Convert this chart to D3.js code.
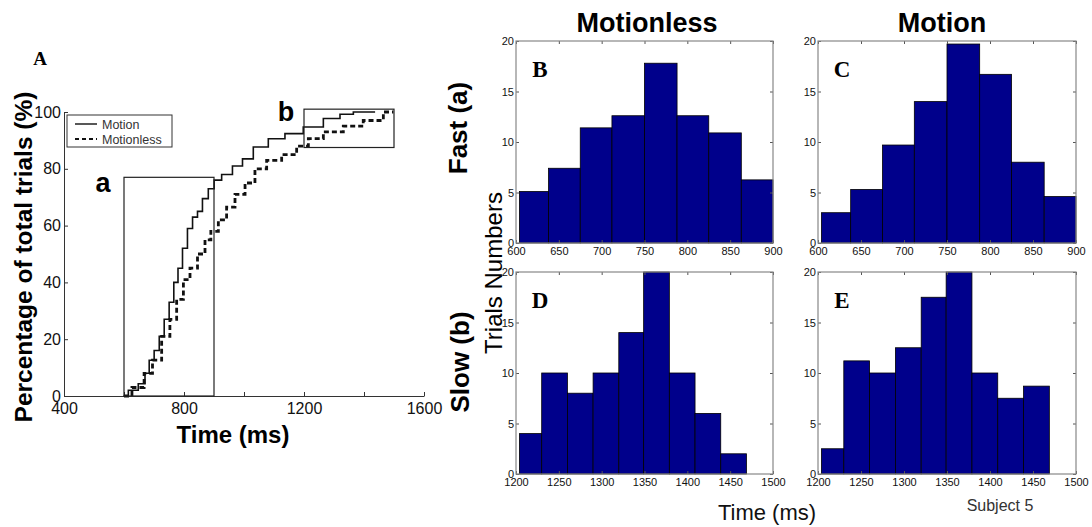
<!DOCTYPE html>
<html>
<head>
<meta charset="utf-8">
<script src="https://cdn.jsdelivr.net/npm/d3@7"></script>
<style>
body { margin: 0; background: #fff; }
svg { display: block; font-family: "Liberation Sans", Arial, sans-serif; }
</style>
</head>
<body>
<div id="chart"></div>
<script>
// cumulative curves (panel A)
var motionTimes = [598, 631, 664, 676, 692, 709, 726, 742, 759, 773, 787, 803, 820, 837, 853, 870, 892, 909, 942, 981, 1009, 1053, 1109, 1164, 1231, 1298, 1342, 1387, 1437];
var motionPct   = [0, 2, 4.3, 8, 12.6, 16, 21, 27, 33, 40, 45, 52, 59, 63, 65, 69.5, 73, 76, 78, 81, 83.5, 87.7, 90.6, 92.4, 94.7, 97.7, 99.2, 100, 100];
var motionlessTimes = [600, 653, 681, 709, 742, 764, 787, 809, 831, 859, 881, 898, 931, 953, 987, 1020, 1053, 1098, 1153, 1198, 1231, 1298, 1364, 1431, 1498];
var motionlessPct   = [0, 3, 8, 12.6, 21, 27, 34, 41, 45, 50, 55, 58, 62, 66.5, 71, 75, 80, 83, 85, 88, 90.6, 93, 95, 97, 100];

// windows "a" and "b"
var windowA = [600, 900, 0, 77];
var windowB = [1200, 1500, 87.5, 101];

// histograms
var fastEdges = [604, 638, 675, 712, 750, 788, 825, 863, 900];
var slowEdges = [1204, 1230, 1260, 1290, 1320, 1349, 1379, 1409, 1439, 1469];
var fastMotionless = [5.1, 7.4, 11.4, 12.6, 17.8, 12.6, 10.9, 6.25];
var fastMotion     = [3.0, 5.3, 9.7, 14.0, 19.7, 16.7, 8.0, 4.6];
var slowMotionless = [4, 10, 8, 10, 14, 20, 10, 6, 2];
var slowMotion     = [2.5, 11.2, 10, 12.5, 17.5, 20, 10, 7.5, 8.7];

var fastTicks = [600, 650, 700, 750, 800, 850, 900];
var slowTicks = [1200, 1250, 1300, 1350, 1400, 1450, 1500];
var countTicks = [0, 5, 10, 15, 20];

var width = 1092,
    height = 527;

var svg = d3.select("#chart")
    .append("svg")
    .attr("width", width)
    .attr("height", height);

// ---------- panel A ----------
var xA = d3.scaleLinear().domain([400, 1600]).range([64, 424]);
var yA = d3.scaleLinear().domain([0, 100]).range([396, 112]);

var gA = svg.append("g");

gA.append("g")
    .attr("transform", "translate(0," + yA(0) + ")")
    .call(d3.axisBottom(xA).tickValues([400, 600, 800, 1000, 1200, 1400, 1600])
        .tickSizeInner(-4).tickSizeOuter(0).tickPadding(7)
        .tickFormat(function (d) { return d % 400 === 0 ? d : ""; }))
    .call(function (g) {
        g.selectAll("text").attr("font-size", 16).attr("fill", "#111");
        g.selectAll("line").attr("stroke", "#333");
        g.select(".domain").attr("stroke", "#333");
    });

gA.append("g")
    .attr("transform", "translate(" + xA(400) + ",0)")
    .call(d3.axisLeft(yA).tickValues([0, 20, 40, 60, 80, 100])
        .tickSizeInner(-4).tickSizeOuter(0).tickPadding(3))
    .call(function (g) {
        g.selectAll("text").attr("font-size", 16).attr("fill", "#111");
        g.selectAll("line").attr("stroke", "#333");
        g.select(".domain").attr("stroke", "#333");
    });

var lineA = d3.line()
    .x(function (d) { return xA(d[0]); })
    .y(function (d) { return yA(d[1]); })
    .curve(d3.curveStep);

gA.append("path")
    .datum(d3.zip(motionTimes, motionPct))
    .attr("d", lineA)
    .attr("fill", "none")
    .attr("stroke", "#111")
    .attr("stroke-width", 1.6);

gA.append("path")
    .datum(d3.zip(motionlessTimes, motionlessPct))
    .attr("d", lineA)
    .attr("fill", "none")
    .attr("stroke", "#111")
    .attr("stroke-width", 2.8)
    .attr("stroke-dasharray", "5,3");

[windowA, windowB].forEach(function (w) {
    gA.append("rect")
        .attr("x", xA(w[0]))
        .attr("y", yA(w[3]))
        .attr("width", xA(w[1]) - xA(w[0]))
        .attr("height", yA(w[2]) - yA(w[3]))
        .attr("fill", "none")
        .attr("stroke", "#222")
        .attr("stroke-width", 1.2);
});

gA.append("text").attr("x", 103).attr("y", 192).attr("text-anchor", "middle")
    .attr("font-size", 27).attr("font-weight", "bold").text("a");
gA.append("text").attr("x", 286).attr("y", 121).attr("text-anchor", "middle")
    .attr("font-size", 27).attr("font-weight", "bold").text("b");

// legend
var leg = gA.append("g").attr("transform", "translate(67,115)");
leg.append("rect").attr("width", 105).attr("height", 32)
    .attr("fill", "#fff").attr("stroke", "#333").attr("stroke-width", 1);
leg.append("line").attr("x1", 8).attr("x2", 30).attr("y1", 9).attr("y2", 9)
    .attr("stroke", "#111").attr("stroke-width", 1.4);
leg.append("line").attr("x1", 8).attr("x2", 30).attr("y1", 24).attr("y2", 24)
    .attr("stroke", "#111").attr("stroke-width", 2).attr("stroke-dasharray", "4,3");
leg.append("text").attr("x", 35).attr("y", 13.5).attr("font-size", 12.5).attr("fill", "#333").text("Motion");
leg.append("text").attr("x", 35).attr("y", 28.5).attr("font-size", 12.5).attr("fill", "#333").text("Motionless");

gA.append("text")
    .attr("transform", "translate(32,257) rotate(-90)")
    .attr("text-anchor", "middle")
    .attr("font-size", 24.5).attr("font-weight", "bold")
    .text("Percentage of total trials (%)");

gA.append("text")
    .attr("x", 233).attr("y", 443)
    .attr("text-anchor", "middle")
    .attr("font-size", 24).attr("font-weight", "bold")
    .text("Time (ms)");

svg.append("text").attr("x", 40).attr("y", 65).attr("text-anchor", "middle")
    .attr("font-family", "Liberation Serif, serif")
    .attr("font-size", 19).attr("font-weight", "bold").text("A");

// ---------- histograms ----------
var cols = [[516, 773], [818, 1076]];
var rows = [[41, 243], [272, 474]];

function histogram(col, row, edges, counts, ticks, letter) {
    var x = d3.scaleLinear().domain([ticks[0], ticks[ticks.length - 1]]).range(cols[col]);
    var y = d3.scaleLinear().domain([0, 20]).range([rows[row][1], rows[row][0]]);
    var g = svg.append("g");

    g.append("rect")
        .attr("x", cols[col][0]).attr("y", rows[row][0])
        .attr("width", cols[col][1] - cols[col][0])
        .attr("height", rows[row][1] - rows[row][0])
        .attr("fill", "#fff");

    g.selectAll(".bar")
        .data(counts)
        .enter()
        .append("rect")
        .attr("class", "bar")
        .attr("x", function (d, i) { return x(edges[i]); })
        .attr("width", function (d, i) { return x(edges[i + 1]) - x(edges[i]); })
        .attr("y", function (d) { return y(d); })
        .attr("height", function (d) { return y(0) - y(d); })
        .attr("fill", "#00008b")
        .attr("stroke", "#000")
        .attr("stroke-width", 0.8);

    var style = function (s) {
        s.selectAll("text").attr("font-size", 11).attr("fill", "#111");
        s.selectAll("line").attr("stroke", "#555");
        s.select(".domain").remove();
    };

    g.append("g").attr("transform", "translate(0," + rows[row][1] + ")")
        .call(d3.axisBottom(x).tickValues(ticks).tickFormat(d3.format("d"))
            .tickSizeInner(-3).tickSizeOuter(0).tickPadding(4))
        .call(style);
    g.append("g").attr("transform", "translate(0," + rows[row][0] + ")")
        .call(d3.axisTop(x).tickValues(ticks).tickSizeInner(-3).tickSizeOuter(0).tickFormat(""))
        .call(style);
    g.append("g").attr("transform", "translate(" + cols[col][0] + ",0)")
        .call(d3.axisLeft(y).tickValues(countTicks).tickSizeInner(-3).tickSizeOuter(0).tickPadding(2))
        .call(style);
    g.append("g").attr("transform", "translate(" + cols[col][1] + ",0)")
        .call(d3.axisRight(y).tickValues(countTicks).tickSizeInner(-3).tickSizeOuter(0).tickFormat(""))
        .call(style);

    g.append("rect")
        .attr("x", cols[col][0]).attr("y", rows[row][0])
        .attr("width", cols[col][1] - cols[col][0])
        .attr("height", rows[row][1] - rows[row][0])
        .attr("fill", "none")
        .attr("stroke", "#888")
        .attr("stroke-width", 1.2);

    g.append("text")
        .attr("x", cols[col][0] + 24).attr("y", rows[row][0] + 36)
        .attr("text-anchor", "middle")
        .attr("font-family", "Liberation Serif, serif")
        .attr("font-size", 23).attr("font-weight", "bold")
        .text(letter);
}

histogram(0, 1, slowEdges, slowMotionless, slowTicks, "D");
histogram(1, 1, slowEdges, slowMotion, slowTicks, "E");
histogram(0, 0, fastEdges, fastMotionless, fastTicks, "B");
histogram(1, 0, fastEdges, fastMotion, fastTicks, "C");

svg.append("text").attr("x", 647).attr("y", 32).attr("text-anchor", "middle")
    .attr("font-size", 27).attr("font-weight", "bold").text("Motionless");
svg.append("text").attr("x", 942).attr("y", 32).attr("text-anchor", "middle")
    .attr("font-size", 27).attr("font-weight", "bold").text("Motion");

svg.append("text").attr("transform", "translate(467,128) rotate(-90)")
    .attr("text-anchor", "middle")
    .attr("font-size", 26).attr("font-weight", "bold").text("Fast (a)");
svg.append("text").attr("transform", "translate(469,362) rotate(-90)")
    .attr("text-anchor", "middle")
    .attr("font-size", 26).attr("font-weight", "bold").text("Slow (b)");
svg.append("text").attr("transform", "translate(502,273) rotate(-90)")
    .attr("text-anchor", "middle")
    .attr("font-size", 24).text("Trials Numbers");

svg.append("text").attr("x", 767).attr("y", 520).attr("text-anchor", "middle")
    .attr("font-size", 22).attr("fill", "#111").text("Time (ms)");
svg.append("text").attr("x", 1000).attr("y", 511).attr("text-anchor", "middle")
    .attr("font-size", 16).attr("fill", "#333").text("Subject 5");
</script>
</body>
</html>
